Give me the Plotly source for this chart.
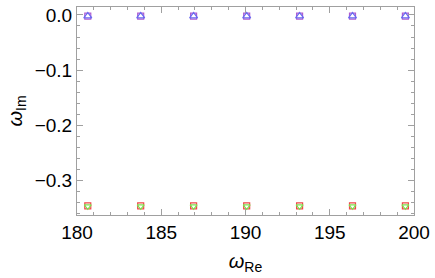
import plotly.graph_objects as go

omega_re = [180.64, 183.78, 186.92, 190.07, 193.21, 196.35, 199.49]
omega_im_top_sq = [-0.002] * 7
omega_im_top_tri = [-0.002] * 7
omega_im_bot_sq = [-0.346] * 7
omega_im_bot_tri = [-0.347] * 7

fig = go.Figure()
fig.add_trace(go.Scatter(x=omega_re, y=omega_im_top_sq, mode="markers",
                         marker=dict(symbol="square-open", size=6, color="#B05CD0", line=dict(width=1.2))))
fig.add_trace(go.Scatter(x=omega_re, y=omega_im_top_tri, mode="markers",
                         marker=dict(symbol="triangle-up-open", size=7, color="#6A6AF0", line=dict(width=1.2))))
fig.add_trace(go.Scatter(x=omega_re, y=omega_im_bot_sq, mode="markers",
                         marker=dict(symbol="square-open", size=6, color="#F04848", line=dict(width=1.2))))
fig.add_trace(go.Scatter(x=omega_re, y=omega_im_bot_tri, mode="markers",
                         marker=dict(symbol="triangle-down-open", size=6, color="#80E050", line=dict(width=1.2))))

axis_common = dict(showgrid=False, zeroline=False, showline=True, linecolor="#A0A0A0", linewidth=1,
                   mirror="ticks", ticks="inside", tickcolor="#A0A0A0", tickfont=dict(family="Liberation Sans, Arial", size=19, color="black"))

fig.update_layout(
    width=435, height=278,
    margin=dict(l=77, r=19, t=5, b=63),
    paper_bgcolor="white", plot_bgcolor="white",
    showlegend=False,
    xaxis=dict(range=[180, 200], tickvals=[180, 185, 190, 195, 200], ticklen=6,
               minor=dict(dtick=1, ticks="inside", ticklen=3, tickcolor="#A0A0A0"),
               title=dict(text="<i>ω</i><sub>Re</sub>", font=dict(family="Liberation Sans, Arial", size=20, color="black"), standoff=12),
               **axis_common),
    yaxis=dict(range=[-0.3627, 0.0144], tickvals=[0, -0.1, -0.2, -0.3], ticktext=["0.0", "−0.1", "−0.2", "−0.3"], ticklen=6,
               minor=dict(dtick=0.02, tick0=0, ticks="inside", ticklen=3, tickcolor="#A0A0A0"),
               title=dict(text="<i>ω</i><sub>Im</sub>", font=dict(family="Liberation Sans, Arial", size=20, color="black"), standoff=6),
               **axis_common),
)

fig.write_html("out.html", config={"displayModeBar": False},
               post_script="document.body.style.margin='0';document.body.style.overflow='hidden';")
